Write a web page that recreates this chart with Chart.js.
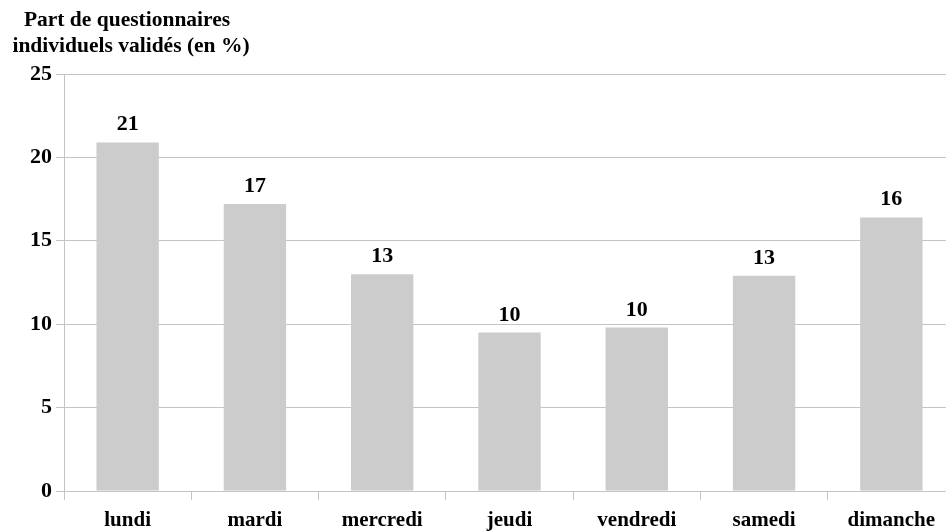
<!DOCTYPE html>
<html>
<head>
  <meta charset="utf-8">
  <title>Part de questionnaires individuels validés</title>
  <script src="https://cdn.jsdelivr.net/npm/chart.js"></script>
  <style>
    body { margin: 0; background: #fff; overflow: hidden; }
    #wrap { width: 960px; height: 531px; }
  </style>
</head>
<body>
  <div id="wrap"><canvas id="chart" width="960" height="531"></canvas></div>
  <script>
    // Data
    const days = ['lundi', 'mardi', 'mercredi', 'jeudi', 'vendredi', 'samedi', 'dimanche'];
    const shares = [20.9, 17.2, 13.0, 9.5, 9.8, 12.9, 16.4];
    const yTicks = [0, 5, 10, 15, 20, 25];
    const titleLines = ['Part de questionnaires', 'individuels validés (en %)'];

    const serif = '"Liberation Serif", "Times New Roman", serif';
    const grid = '#c4c4c4';

    // Title in the top-left corner and rounded values above bars
    const textPlugin = {
      id: 'texts',
      afterDraw(chart) {
        const ctx = chart.ctx;
        ctx.save();
        ctx.fillStyle = '#000';
        ctx.font = 'bold 21.5px ' + serif;
        ctx.textAlign = 'center';
        ctx.textBaseline = 'middle';
        ctx.fillText(titleLines[0], 127, 20);
        ctx.fillText(titleLines[1], 131, 46);
        ctx.font = 'bold 22px ' + serif;
        ctx.textBaseline = 'alphabetic';
        chart.getDatasetMeta(0).data.forEach((bar, i) => {
          ctx.fillText(Math.round(shares[i]), bar.x, bar.y - 12);
        });
        ctx.restore();
      }
    };

    new Chart(document.getElementById('chart').getContext('2d'), {
      type: 'bar',
      data: {
        labels: days,
        datasets: [{ data: shares, backgroundColor: '#cccccc', categoryPercentage: 1, barPercentage: 0.49 }]
      },
      options: {
        responsive: false,
        animation: false,
        layout: { padding: { top: 74, left: 10, right: 5, bottom: 0 } },
        plugins: { legend: { display: false }, tooltip: { enabled: false } },
        scales: {
          x: {
            afterFit(axis) { axis.height = 40; },
            grid: { drawOnChartArea: false, drawTicks: true, tickLength: 9, color: grid },
            border: { color: grid },
            ticks: { color: '#000', padding: 10, font: { family: serif, size: 21, weight: 'bold', lineHeight: 1 } }
          },
          y: {
            min: 0, max: 25,
            afterBuildTicks(axis) { axis.ticks = yTicks.map(v => ({ value: v })); },
            afterFit(axis) { axis.width = 54; },
            grid: { color: grid, tickLength: 8 },
            border: { color: grid },
            ticks: { color: '#000', padding: 4, font: { family: serif, size: 22, weight: 'bold' } }
          }
        }
      },
      plugins: [textPlugin]
    });
  </script>
</body>
</html>
